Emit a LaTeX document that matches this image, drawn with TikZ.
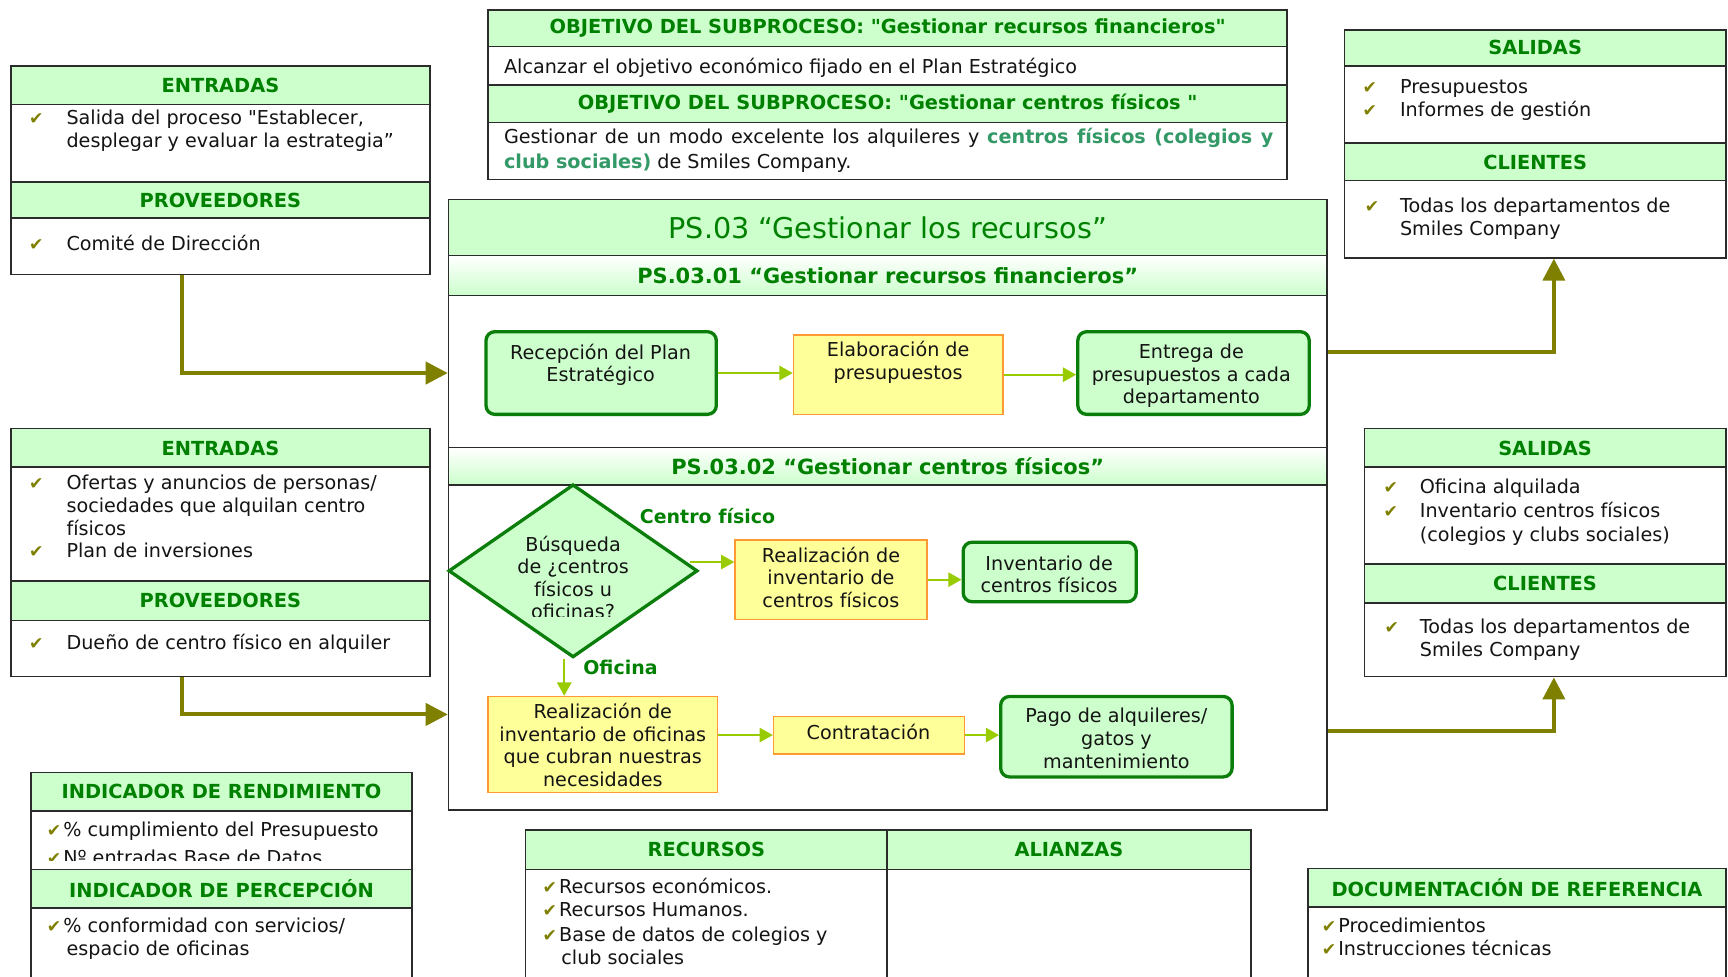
\documentclass[tikz,border=0pt]{standalone}
\usepackage{fontspec}
\setmainfont{DejaVu Sans}[Ligatures=TeXOff]
\usetikzlibrary{fit,calc,arrows.meta,shapes.geometric}

\definecolor{hgreen}{HTML}{CCFFCC}
\definecolor{tgreen}{HTML}{008000}
\definecolor{bord}{HTML}{2B2B2B}
\definecolor{olivec}{HTML}{808000}
\definecolor{fgreen}{HTML}{0A7D0A}
\definecolor{arrowg}{HTML}{99CC00}
\definecolor{yfill}{HTML}{FFFF99}
\definecolor{obord}{HTML}{FF9933}
\definecolor{hlteal}{HTML}{339966}
\definecolor{txt}{HTML}{141414}

\newcommand\bodyf{\fontsize{8.7}{10.5}\selectfont}
\newcommand\hdrf{\fontsize{8.8}{10}\selectfont\bfseries}
\newcommand\subf{\fontsize{9.5}{11}\selectfont\bfseries}
\newcommand\chkf{\fontsize{7.8}{8}\selectfont}
\newcommand\flowf{\fontsize{8.7}{10.25}\selectfont}
\newcommand\titlef{\fontsize{13}{15}\selectfont}
% a table cell spanning two corners, with a centred caption
\newcommand\mkcell[8][]{%
  \node[#2, fit={(#4,#5) (#6,#7)}] (#3) {};
  \node[hlab,#1] (#3l) at (#3.center) {#8};}

\begin{document}
\begin{tikzpicture}[x=0.5pt,y=-0.5pt,
  hdr/.style={draw=bord, line width=0.7pt, fill=hgreen, inner sep=0pt},
  cellbox/.style={draw=bord, line width=0.7pt, fill=white, inner sep=0pt},
  subhdr/.style={draw=bord, line width=0.7pt, inner sep=0pt, top color=white, bottom color=hgreen},
  hlab/.style={inner sep=0pt, font=\hdrf, text=tgreen},
  ln/.style={anchor=base west, inner sep=0pt, font=\bodyf, text=txt, yshift=-1.5pt},
  chk/.style={anchor=base, inner sep=0pt, font=\chkf, text=olivec, yshift=-1.5pt},
  gbox/.style={draw=fgreen, line width=1.5pt, fill=hgreen, rounded corners=4pt, inner sep=0pt},
  ybox/.style={draw=obord, line width=0.7pt, fill=yfill, inner sep=0pt},
  ftxt/.style={align=center, inner sep=0pt, font=\flowf, text=txt},
  glabel/.style={inner sep=0pt, font=\fontsize{8.6}{10}\selectfont\bfseries, text=tgreen},
  flow/.style={draw=arrowg, line width=0.8pt, -{Triangle[length=6pt,width=6.5pt]}},
  olv/.style={draw=olivec, line width=1.8pt, -{Triangle[length=10pt,width=10pt]}}
]
\useasboundingbox (0,0) rectangle (1568,886);
\fill[white] (0,0) rectangle (1568,886);

% ---------- objectives of the subprocesses ----------
\mkcell{hdr}{o1h}{443}{9}{1168}{42}{OBJETIVO DEL SUBPROCESO: "Gestionar recursos financieros"}
\node[cellbox, fit={(443,42) (1168,77)}] (o1b) {};
\mkcell{hdr}{o2h}{443}{77}{1168}{111}{OBJETIVO DEL SUBPROCESO: "Gestionar centros físicos "}
\node[cellbox, fit={(443,111) (1168,163)}] (o2b) {};
\node[ln] (o1t) at (457,64) {Alcanzar el objetivo económico fijado en el Plan Estratégico};
\node[ln] (o2t1) at (457,127) {\makebox[349pt][s]{Gestionar de un modo excelente los alquileres y \textcolor{hlteal}{\bfseries centros físicos (colegios y}}};
\node[ln] (o2t2) at (457,150) {\textcolor{hlteal}{\bfseries club sociales)} de Smiles Company.};

% ---------- inputs / suppliers (financial) ----------
\mkcell{hdr}{e1h}{10}{60}{390}{95}{ENTRADAS}
\node[cellbox, fit={(10,95) (390,165)}] (e1b) {};
\mkcell{hdr}{p1h}{10}{165}{390}{198}{PROVEEDORES}
\node[cellbox, fit={(10,198) (390,249)}] (p1) {};
\node[chk] (e1c1) at (33,110) {✔};
\node[ln] (e1t1) at (60,110) {Salida del proceso "Establecer,};
\node[ln] (e1t2) at (60,131) {desplegar y evaluar la estrategia”};
\node[chk] (p1c1) at (33,224) {✔};
\node[ln] (p1t1) at (60,224) {Comité de Dirección};

% ---------- outputs / clients (financial) ----------
\mkcell{hdr}{s1h}{1220}{27}{1566}{60}{SALIDAS}
\node[cellbox, fit={(1220,60) (1566,130)}] (s1b) {};
\mkcell{hdr}{c1h}{1220}{130}{1566}{164}{CLIENTES}
\node[cellbox, fit={(1220,164) (1566,234)}] (c1) {};
\node[chk] (s1c1) at (1243,82) {✔};
\node[ln] (s1t1) at (1270,82) {Presupuestos};
\node[chk] (s1c2) at (1243,103) {✔};
\node[ln] (s1t2) at (1270,103) {Informes de gestión};
\node[chk] (c1c1) at (1245,190) {✔};
\node[ln] (c1t1) at (1270,190) {Todas los departamentos de};
\node[ln] (c1t2) at (1270,211) {Smiles Company};

% ---------- inputs / suppliers (premises) ----------
\mkcell{hdr}{e2h}{10}{389}{390}{424}{ENTRADAS}
\node[cellbox, fit={(10,424) (390,527)}] (e2b) {};
\mkcell{hdr}{p2h}{10}{527}{390}{563}{PROVEEDORES}
\node[cellbox, fit={(10,563) (390,614)}] (p2) {};
\node[chk] (e2c1) at (33,441) {✔};
\node[ln] (e2t1) at (60,441) {Ofertas y anuncios de personas/};
\node[ln] (e2t2) at (60,462) {sociedades que alquilan centro};
\node[ln] (e2t3) at (60,483) {físicos};
\node[chk] (e2c2) at (33,503) {✔};
\node[ln] (e2t4) at (60,503) {Plan de inversiones};
\node[chk] (p2c1) at (33,586) {✔};
\node[ln] (p2t1) at (60,586) {Dueño de centro físico en alquiler};

% ---------- outputs / clients (premises) ----------
\mkcell{hdr}{s2h}{1238}{389}{1566}{424}{SALIDAS}
\node[cellbox, fit={(1238,424) (1566,512)}] (s2b) {};
\mkcell{hdr}{c2h}{1238}{512}{1566}{547}{CLIENTES}
\node[cellbox, fit={(1238,547) (1566,614)}] (c2) {};
\node[chk] (s2c1) at (1262,445) {✔};
\node[ln] (s2t1) at (1288,445) {Oficina alquilada};
\node[chk] (s2c2) at (1262,467) {✔};
\node[ln] (s2t2) at (1288,467) {Inventario centros físicos};
\node[ln] (s2t3) at (1288,488) {(colegios y clubs sociales)};
\node[chk] (c2c1) at (1263,572) {✔};
\node[ln] (c2t1) at (1288,572) {Todas los departamentos de};
\node[ln] (c2t2) at (1288,593) {Smiles Company};

% ---------- main process ----------
\node[cellbox, fit={(407,181) (1204,735)}] (main) {};
\mkcell[font=\titlef]{hdr}{t0}{407}{181}{1204}{232}{PS.03 “Gestionar los recursos”}
\mkcell[font=\subf]{subhdr}{sp1}{407}{232}{1204}{268}{PS.03.01 “Gestionar recursos financieros”}
\node[cellbox, fit={(407,268) (1204,406)}] (sec1) {};
\mkcell[font=\subf]{subhdr}{sp2}{407}{406}{1204}{440}{PS.03.02 “Gestionar centros físicos”}

% financial flow
\node[gbox, fit={(441,301) (650,376)}] (rec) {};
\node[ftxt] (rect) at (545,331) {Recepción del Plan\\Estratégico};
\node[ybox, fit={(720,304) (910,376)}] (elab) {};
\node[ftxt] (elabt) at (815,329) {Elaboración de\\presupuestos};
\node[gbox, fit={(978,301) (1188,376)}] (ent) {};
\node[ftxt] (entt) at (1081,341) {Entrega de\\presupuestos a cada\\departamento};

\draw[flow] (rec.east) -- (rec.east -| elab.west);
\draw[flow] (elab.east) -- (elab.east -| ent.west);

% premises flow
\node[diamond, draw=fgreen, line width=1.5pt, fill=hgreen, inner sep=0pt,
      minimum width=113pt, minimum height=78.5pt] (dia) at (520,518) {};
\begin{scope}
  \clip (407,470) rectangle (633,559);
  \node[ftxt] (diat) at (520,524) {Búsqueda\\de ¿centros\\físicos u\\oficinas?};
\end{scope}
\node[glabel] (lcf) at (642,468) {Centro físico};
\node[glabel] (lof) at (563,606) {Oficina};

\node[ybox, fit={(667,490) (841,562)}] (rc) {};
\node[ftxt] (rct) at (754,524) {Realización de\\inventario de\\centros físicos};
\node[gbox, fit={(874,492) (1031,546)}] (inv) {};
\node[ftxt] (invt) at (952,521) {Inventario de\\centros físicos};
\node[ybox, fit={(443,632) (651,719)}] (ro) {};
\node[ftxt] (rot) at (547,676) {Realización de\\inventario de oficinas\\que cubran nuestras\\necesidades};
\node[ybox, fit={(702,650) (875,684)}] (con) {};
\node[ftxt] (cont) at (788,664) {Contratación};
\node[gbox, fit={(908,632) (1118,705)}] (pago) {};
\node[ftxt] (pagot) at (1013,670) {Pago de alquileres/\\gatos y\\mantenimiento};

\coordinate (dx) at ($(dia.east)+(-8,-8)$);
\draw[flow] (dx) -- (dx -| rc.west);
\draw[flow] (rc.east) -- (rc.east -| inv.west);
\coordinate (dy) at ($(dia.south)+(-8,0)$);
\draw[flow] (dy) -- (dy |- ro.north);
\draw[flow] (ro.east |- con.west) -- (con.west);
\draw[flow] (con.east) -- (con.east -| pago.west);

% ---------- connectors to and from the process ----------
\coordinate (k1) at ($(p1.south)+(-35,0)$);
\draw[olv] (k1) |- (main.west |- rec.west);
\coordinate (m1) at (main.east |- ent.east);
\coordinate (k2) at ($(m1)+(0,-19.5)$);
\coordinate (k3) at ($(c1.south)+(17,0)$);
\draw[olv] (k2) -| (k3);
\coordinate (k4) at ($(p2.south)+(-35,0)$);
\coordinate (m2) at (main.west |- ro.north);
\coordinate (k5) at ($(m2)+(0,17)$);
\draw[olv] (k4) |- (k5);
\coordinate (m3) at (main.east |- pago.north);
\coordinate (k6) at ($(m3)+(0,33)$);
\coordinate (k7) at ($(c2.south)+(8,0)$);
\draw[olv] (k6) -| (k7);

% ---------- indicators ----------
\mkcell{hdr}{irh}{28}{701}{374}{736}{INDICADOR DE RENDIMIENTO}
\node[cellbox, fit={(28,736) (374,789)}] (irb) {};
\node[chk] (irc1) at (49,756) {✔};
\node[ln] (irt1) at (57,756) {\% cumplimiento del Presupuesto};
\begin{scope}
  \clip (28,737) rectangle (374,781);
  \node[chk] (irc2) at (49,781) {✔};
  \node[ln] (irt2) at (57,781) {Nº entradas Base de Datos};
\end{scope}
\mkcell{hdr}{iph}{28}{789}{374}{824}{INDICADOR DE PERCEPCIÓN}
\node[cellbox, fit={(28,824) (374,895)}] (ipb) {};
\node[chk] (ipc1) at (49,843) {✔};
\node[ln] (ipt1) at (57,843) {\% conformidad con servicios/};
\node[ln] (ipt2) at (60,864) {espacio de oficinas};

% ---------- resources and alliances ----------
\mkcell{hdr}{rh}{477}{753}{805}{789}{RECURSOS}
\mkcell{hdr}{ah}{805}{753}{1135}{789}{ALIANZAS}
\node[cellbox, fit={(477,789) (805,895)}] (rb) {};
\node[cellbox, fit={(805,789) (1135,895)}] (ab) {};
\node[chk] (rc1) at (499,808) {✔};
\node[ln] (rt1) at (507,808) {Recursos económicos.};
\node[chk] (rc2) at (499,829) {✔};
\node[ln] (rt2) at (507,829) {Recursos Humanos.};
\node[chk] (rc3) at (499,851) {✔};
\node[ln] (rt3) at (507,851) {Base de datos de colegios y};
\node[ln] (rt4) at (509,872) {club sociales};

% ---------- reference documentation ----------
\mkcell{hdr}{dh}{1187}{788}{1566}{823}{DOCUMENTACIÓN DE REFERENCIA}
\node[cellbox, fit={(1187,823) (1566,895)}] (db) {};
\node[chk] (dc1) at (1206,843) {✔};
\node[ln] (dt1) at (1214,843) {Procedimientos};
\node[chk] (dc2) at (1206,864) {✔};
\node[ln] (dt2) at (1214,864) {Instrucciones técnicas};
\end{tikzpicture}
\end{document}
